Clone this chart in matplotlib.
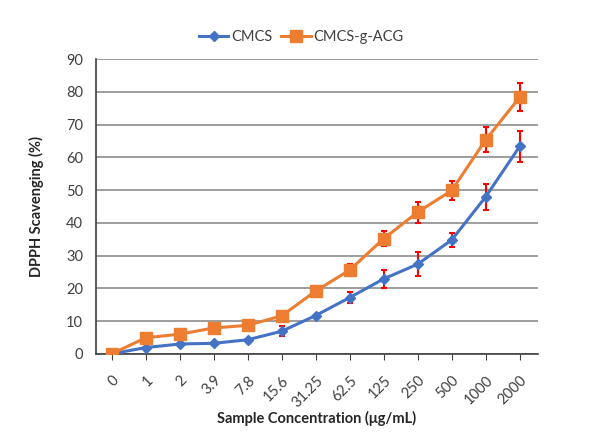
import matplotlib

matplotlib.use("Agg")
import matplotlib.pyplot as plt

plt.rcParams.update({"font.family": ["Lato", "DejaVu Sans"], "font.size": 10.5})

concentrations = ["0", "1", "2", "3.9", "7.8", "15.6", "31.25", "62.5", "125", "250", "500", "1000", "2000"]
cmcs = [0, 1.9, 3.0, 3.2, 4.3, 6.9, 11.7, 17.2, 22.9, 27.4, 34.8, 48.0, 63.4]
cmcs_err = [0, 0, 0, 0, 0, 1.5, 0.3, 1.6, 2.7, 3.6, 2.2, 4.0, 4.7]
acg = [0, 4.9, 6.0, 7.9, 8.7, 11.6, 19.2, 25.6, 35.2, 43.3, 49.9, 65.4, 78.4]
acg_err = [0, 0, 0, 0, 0, 0.3, 0.4, 1.7, 2.2, 3.2, 3.0, 3.8, 4.2]

BLUE = "#4472C4"
ORANGE = "#ED7D31"
TEXT = "#404040"

fig = plt.figure(figsize=(5.91, 4.32), dpi=100)
ax = fig.add_axes([0.162, 0.181, 0.748, 0.682])

x = list(range(len(concentrations)))
ax.errorbar(x, cmcs, yerr=cmcs_err, color=BLUE, linewidth=2.2, marker="D", markersize=5,
            ecolor="red", elinewidth=1.5, capsize=2.5, capthick=1.5, label="CMCS", zorder=3)
ax.errorbar(x, acg, yerr=acg_err, color=ORANGE, linewidth=2.2, marker="s", markersize=8,
            ecolor="red", elinewidth=1.5, capsize=2.5, capthick=1.5, label="CMCS-g-ACG", zorder=4)

ax.set_ylim(0, 90)
ax.set_yticks(range(0, 91, 10))
ax.set_xlim(-0.47, 12.53)
ax.set_xticks(x)
ax.set_xticklabels(concentrations, rotation=45, ha="right", rotation_mode="anchor", color=TEXT)
ax.tick_params(axis="x", length=4, color="#404040", pad=10)
ax.tick_params(axis="y", length=0, colors=TEXT, pad=9)
ax.grid(axis="y", color="#8c8c8c", linewidth=1.2)
ax.set_axisbelow(True)
for s in ("top", "right"):
    ax.spines[s].set_visible(False)
for s in ("left", "bottom"):
    ax.spines[s].set_color("#404040")
    ax.spines[s].set_linewidth(1.2)

ax.set_xlabel("Sample Concentration (μg/mL)", fontweight="bold", color="#262626", labelpad=1)
ax.set_ylabel("DPPH Scavenging (%)", fontweight="bold", color="#262626", labelpad=16)

handles, labels = ax.get_legend_handles_labels()
fig.legend([h[0] for h in handles], labels, loc="center", bbox_to_anchor=(0.51, 0.915), ncol=2,
           frameon=False, handlelength=2.0, handletextpad=0.2, columnspacing=0.6, labelcolor=TEXT)

fig.savefig("out.png", dpi=100)
